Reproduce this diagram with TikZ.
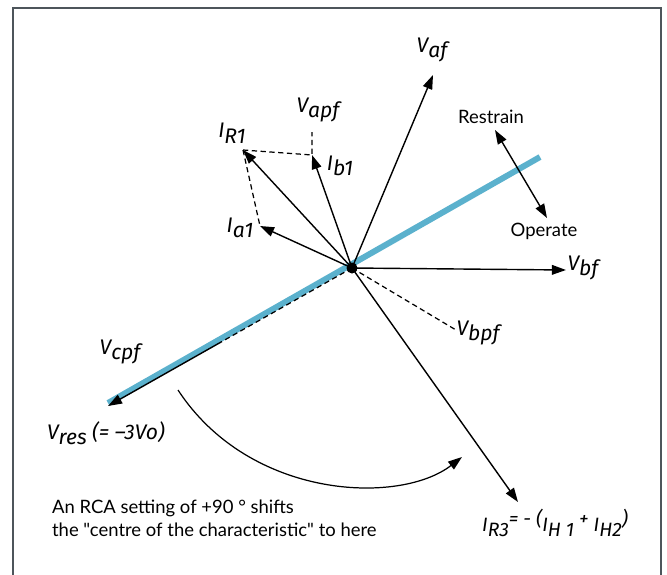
\documentclass[tikz,border=0pt]{standalone}
\usepackage{fontspec}
\setmainfont{Lato}
\newfontfamily\txtfont{Lato}
\newfontfamily\lblfont{Fira Sans}
\usetikzlibrary{arrows.meta}
\definecolor{rcablue}{HTML}{5BB1CD}
\definecolor{framegrey}{HTML}{4D555B}
\newcommand{\lsub}[1]{\raisebox{-0.5ex}{#1}}

\begin{document}
\begin{tikzpicture}[x=0.02cm,y=-0.02cm,font=\small,
  vec/.style={line width=0.8pt,-{Triangle[length=8pt,width=5.5pt]}},
  aux/.style={line width=0.7pt,dashed,dash pattern=on 3pt off 2pt},
  lbl/.style={font=\lblfont\itshape\large,inner sep=1pt},
  txt/.style={font=\txtfont\fontsize{10.5}{13}\selectfont,inner sep=1pt,align=left}]
\useasboundingbox (0,0) rectangle (667,575);
\draw[framegrey,line width=1.7pt] (13,590) -- (13,8) -- (661,8) -- (661,590);
\coordinate (O) at (352,268);
\coordinate (vaf) at (433,75);
\coordinate (ir1) at (243,150);
\coordinate (ib1) at (312,155);
\coordinate (ia1) at (260,226);
\coordinate (apf) at (312,132);
\coordinate (vbf) at (566,270);
\coordinate (bpf) at (456,330);
\coordinate (ir3) at (518,502);
\coordinate (vres) at (108,406);
\coordinate (cpf) at (222,341.5);
\coordinate (rtop) at (495,130);
\coordinate (rbot) at (547,218);
\coordinate (arcA) at (178,390);
\coordinate (arcB) at (462,457);
\draw[rcablue,line width=3.4pt] (108,403) -- (540,157);
\draw[aux] (ir1) -- (ib1) -- (apf);
\draw[aux] (ir1) -- (ia1);
\draw[aux] (O) -- (bpf);
\draw[aux] (O) -- (cpf);
\draw[vec] (cpf) -- (vres);
\draw[vec] (O) -- (vaf);
\draw[vec] (O) -- (ir1);
\draw[vec] (O) -- (ib1);
\draw[vec] (O) -- (ia1);
\draw[vec] (O) -- (vbf);
\draw[vec] (O) -- (ir3);
\fill (O) circle (5.5);
\draw[line width=0.8pt,{Triangle[length=8pt,width=5.5pt]}-{Triangle[length=8pt,width=5.5pt]}] (rtop) -- (rbot);
\draw[line width=0.7pt,-{Triangle[length=8pt,width=5.5pt]}] (arcA) .. controls (250,500) and (400,505) .. (arcB);
\node[lbl] (Lvaf) at (432,50) {V\lsub{af}};
\node[lbl] (Lvapf) at (318,110) {V\lsub{apf}};
\node[lbl] (Lir1) at (232,133) {I\lsub{R1}};
\node[lbl] (Lib1) at (340,166) {I\lsub{b1}};
\node[lbl] (Lia1) at (240,228) {I\lsub{a1}};
\node[lbl] (Lvbf) at (583,268) {V\lsub{bf}};
\node[lbl] (Lvbpf) at (478,333) {V\lsub{bpf}};
\node[lbl] (Lvcpf) at (120,352) {V\lsub{cpf}};
\node[lbl,anchor=west] (Lvres) at (45,433) {V\lsub{res} (= –3Vo)};
\node[lbl,anchor=west,font=\lblfont\itshape\fontsize{11}{13}\selectfont] (Lir3) at (480,523) {\lsub{I}\lsub{\lsub{R3}}= - (\lsub{I}\lsub{\lsub{H 1}} + \lsub{I}\lsub{\lsub{H2}})};
\node[txt] (restrain) at (491,117) {Restrain};
\node[txt] (operate) at (544,231) {Operate};
\node[txt,anchor=west] (rca) at (50,518) {An RCA setting of +90 ° shifts\\the "centre of the characteristic" to here};
\end{tikzpicture}
\end{document}
